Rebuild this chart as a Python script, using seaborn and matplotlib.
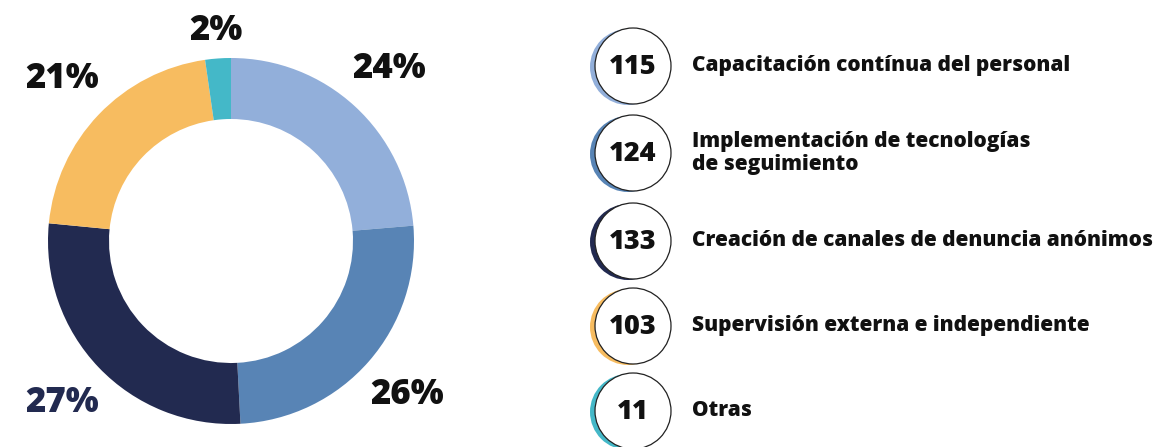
import matplotlib
matplotlib.use("Agg")
import matplotlib.pyplot as plt
from matplotlib.patches import Circle
import seaborn as sns
import numpy as np

categories = [
    "Capacitación contínua del personal",
    "Implementación de tecnologías\nde seguimiento",
    "Creación de canales de denuncia anónimos",
    "Supervisión externa e independiente",
    "Otras",
]
counts = [115, 124, 133, 103, 11]
colors = ["#92AFDA", "#5884B5", "#222A50", "#F7BC60", "#44B8C8"]
pct_text_colors = ["#111111", "#111111", "#222A50", "#111111", "#111111"]

sns.set_theme(style="white")
plt.rcParams["font.family"] = ["Open Sans", "DejaVu Sans"]

W, H = 1166, 447
fig = plt.figure(figsize=(W / 100, H / 100), dpi=100)
fig.patch.set_facecolor("white")

# donut
cx, cy, R = 231, 241, 183
ax = fig.add_axes([(cx - R) / W, (H - cy - R) / H, 2 * R / W, 2 * R / H])
wedges, _ = ax.pie(counts, colors=colors, startangle=90, counterclock=False,
                   radius=1.0, wedgeprops=dict(width=61 / 183, linewidth=0))
ax.set_xlim(-1, 1)
ax.set_ylim(-1, 1)
ax.set_aspect("equal")
ax.axis("off")

total = sum(counts)
start = 90.0
for i, v in enumerate(counts):
    span = 360.0 * v / total
    mid = np.deg2rad(start - span / 2)
    start -= span
    r = 1.28 if v / total > 0.05 else 1.15
    ax.text(r * np.cos(mid), r * np.sin(mid), f"{round(100 * v / total)}%",
            ha="center", va="center", fontsize=25, fontweight="heavy",
            color=pct_text_colors[i], clip_on=False)

# legend
lax = fig.add_axes([0, 0, 1, 1], zorder=-1)
lax.set_xlim(0, W)
lax.set_ylim(H, 0)
lax.axis("off")
ys = [66, 153, 241, 326, 411]
lx, lr = 633, 38
for y, v, c, lab in zip(ys, counts, colors, categories):
    lax.add_patch(Circle((lx - 5, y + 1), lr, facecolor=c, edgecolor="none"))
    lax.add_patch(Circle((lx, y), lr, facecolor="white", edgecolor="#222222", linewidth=0.9))
    lax.text(lx, y + 1, str(v), ha="center", va="center", fontsize=19.5,
             fontweight="heavy", color="#111111")
    lax.text(692, y, lab, ha="left", va="center", fontsize=15,
             fontweight="heavy", color="#111111", linespacing=1.1)

fig.savefig("out.png", dpi=100, facecolor="white")
